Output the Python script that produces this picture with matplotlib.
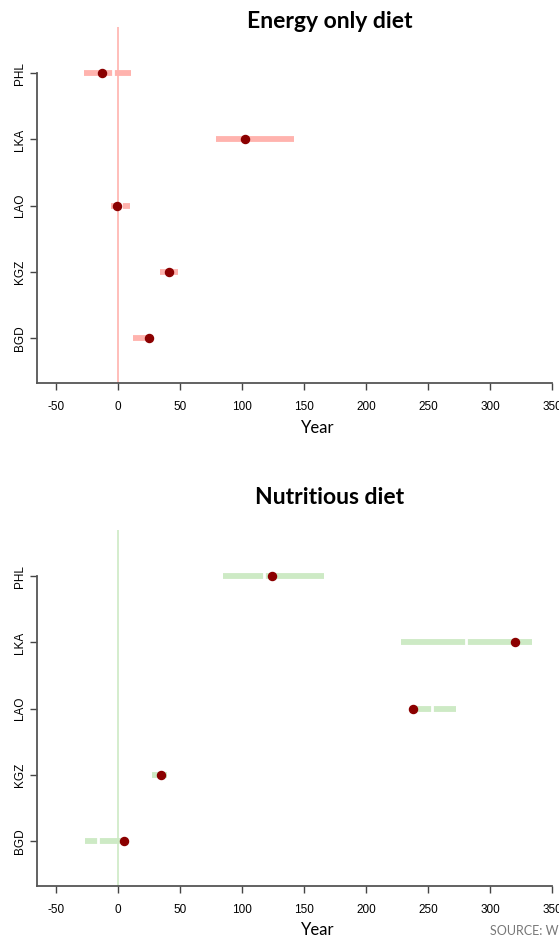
import matplotlib.pyplot as plt

countries = ['BGD', 'KGZ', 'LAO', 'LKA', 'PHL']
x_ticks = [-50, 0, 50, 100, 150, 200, 250, 300, 350]

# energy only diet: range low, split, high and point estimate (years)
energy_lo = [12, 34, -5, 79, -27]
energy_mid = [25, 41, 3, 102, -4]
energy_hi = [27, 49, 10, 142, 11]
energy_pt = [25.5, 41.5, -0.5, 102.5, -13]

# nutritious diet
nutri_lo = [-26, 28, 236, 228, 85]
nutri_mid = [-16, 35, 253, 281, 118]
nutri_hi = [4, 40, 273, 334, 166]
nutri_pt = [5, 35, 238, 320, 124]

plt.rcParams['font.family'] = ['Liberation Sans', 'DejaVu Sans']

W, H = 559, 938
fig = plt.figure(figsize=(W / 100, H / 100), dpi=100)


def panel(rect, title, title_y, label_y, lo, mid, hi, pt, bar_color):
    ax = fig.add_axes(rect)
    ypos = list(range(1, len(countries) + 1))
    ax.axvline(0, color=bar_color, lw=1.2, zorder=1)
    ax.hlines(ypos, lo, hi, color=bar_color, lw=4.2, zorder=2)
    # white split inside each range
    ax.plot(mid, ypos, ls='none', marker='|', color='white', ms=8, mew=2, zorder=3)
    ax.plot(pt, ypos, ls='none', marker='o', color='#8b0000', ms=5.8, zorder=4)

    ax.set_xlim(-65, 350)
    ax.set_ylim(0.32, 5.7)
    ax.set_xticks(x_ticks)
    ax.set_xticklabels([str(v) for v in x_ticks], fontsize=8.5)
    ax.set_yticks(ypos)
    ax.set_yticklabels(countries, rotation=90, va='center', fontsize=8.5)
    ax.tick_params(axis='both', length=5, width=1, color='#444444')
    ax.tick_params(axis='x', pad=8)
    ax.tick_params(axis='y', pad=3)
    for s in ['top', 'right']:
        ax.spines[s].set_visible(False)
    for s in ['left', 'bottom']:
        ax.spines[s].set_color('#555555')
        ax.spines[s].set_linewidth(1.3)
    ax.spines['left'].set_bounds(0.32, 5)
    fig.text(318 / W, 1 - label_y / H, 'Year', family='Lato', fontsize=12,
             ha='center', va='center')
    fig.text(330 / W, 1 - title_y / H, title, family='Lato', fontweight='bold',
             fontsize=16.5, ha='center', va='center')
    return ax


panel([37 / W, 1 - 383 / H, 515 / W, 356 / H], 'Energy only diet', 21, 428,
      energy_lo, energy_mid, energy_hi, energy_pt, '#ffb3ae')
panel([37 / W, 1 - 886 / H, 515 / W, 356 / H], 'Nutritious diet', 498, 930,
      nutri_lo, nutri_mid, nutri_hi, nutri_pt, '#cdeac5')

fig.text(490 / W, 1 - 931 / H, 'SOURCE: World Bank', family='Lato',
         fontsize=9, color='#777777', va='center', ha='left')

fig.savefig('out.png', dpi=100)
